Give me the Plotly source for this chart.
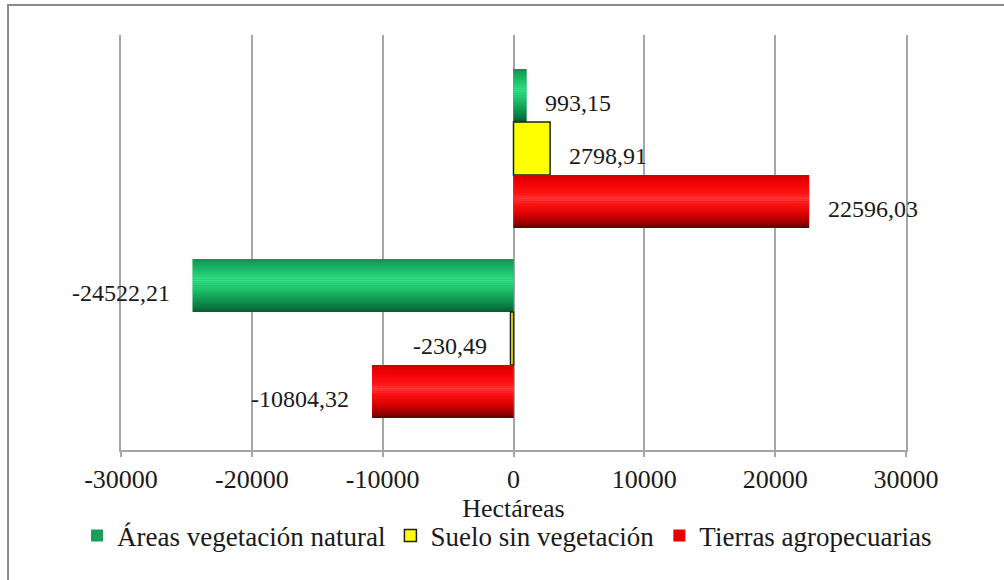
import numpy as np
import plotly.graph_objects as go

# Change in land cover (hectares): gains on the upper row, losses on the lower row
categories = ["Ganancia", "Pérdida"]
series_names = ["Áreas vegetación natural", "Suelo sin vegetación", "Tierras agropecuarias"]
vegetacion_natural = [993.15, -24522.21]
suelo_sin_vegetacion = [2798.91, -230.49]
tierras_agropecuarias = [22596.03, -10804.32]

x_tick_values = [-30000, -20000, -10000, 0, 10000, 20000, 30000]
x_tick_labels = ["-30000", "-20000", "-10000", "0", "10000", "20000", "30000"]

FONT = "Liberation Serif"
TEXT_COLOR = "#1a1a1a"
GRID = "#a6a6a6"

# bar thickness in category units and the offset of each series in its group
BAR_W = 0.2789
OFFSETS = [-0.4184, -0.1395, 0.1395]

# cylinder-style shading (position across the bar thickness, colour)
green_stops = [(0.00, "#0f9250"), (0.15, "#18b264"), (0.40, "#30e488"),
               (0.55, "#22ca72"), (0.75, "#129a54"), (0.90, "#0a7a40"), (1.00, "#055a2c")]
red_stops = [(0.00, "#cc0000"), (0.12, "#f00000"), (0.35, "#ff1414"),
             (0.45, "#ff3c3c"), (0.55, "#ff1414"), (0.75, "#d80000"),
             (0.90, "#9c0000"), (1.00, "#5a0000")]


def hex_to_rgb(h):
    h = h.lstrip("#")
    return np.array([int(h[i:i + 2], 16) for i in (0, 2, 4)], dtype=float)


def color_at(stops, t):
    for (t0, c0), (t1, c1) in zip(stops[:-1], stops[1:]):
        if t0 <= t <= t1:
            f = 0 if t1 == t0 else (t - t0) / (t1 - t0)
            rgb = hex_to_rgb(c0) * (1 - f) + hex_to_rgb(c1) * f
            return "rgb(%d,%d,%d)" % tuple(np.round(rgb))
    return stops[-1][1]


def value_label(v):
    return f"{v:.2f}".replace(".", ",")


series = [
    (series_names[0], vegetacion_natural, "#1a9e5a", None, green_stops),
    (series_names[1], suelo_sin_vegetacion, "#ffff00", "#202020", None),
    (series_names[2], tierras_agropecuarias, "#e60000", None, red_stops),
]

fig = go.Figure()
N_STRIPS = 26
annotations = []

for k, (name, values, color, line_color, stops) in enumerate(series):
    fig.add_trace(go.Bar(
        name=name,
        y=categories,
        x=values,
        orientation="h",
        offset=OFFSETS[k],
        width=BAR_W,
        marker=dict(color=color,
                    line=dict(color=line_color or color, width=1.5 if line_color else 0)),
    ))
    if stops is not None:
        for j in range(N_STRIPS):
            t = (j + 0.5) / N_STRIPS
            fig.add_trace(go.Bar(
                y=categories,
                x=values,
                orientation="h",
                offset=OFFSETS[k] + BAR_W * j / N_STRIPS,
                width=BAR_W / N_STRIPS * 1.05,
                marker=dict(color=color_at(stops, t), line=dict(width=0)),
                showlegend=False,
                hoverinfo="skip",
            ))
    # value labels just past the end of each bar
    for i, v in enumerate(values):
        annotations.append(dict(
            x=v, y=i + OFFSETS[k] + BAR_W / 2, xref="x", yref="y",
            text=value_label(v), showarrow=False,
            xanchor="left" if v >= 0 else "right",
            xshift=17 if v >= 0 else -21, yshift=-7,
            font=dict(family=FONT, size=24, color=TEXT_COLOR),
        ))

fig.update_layout(
    template="none",
    width=1004,
    height=580,
    barmode="overlay",
    paper_bgcolor="white",
    plot_bgcolor="white",
    margin=dict(l=121, r=98, t=35, b=130, autoexpand=False),
    font=dict(family=FONT, size=25, color=TEXT_COLOR),
    showlegend=True,
    legend=dict(
        orientation="h",
        x=-0.056, xanchor="left",
        y=-0.148, yanchor="top",
        font=dict(family=FONT, size=27, color=TEXT_COLOR),
        bgcolor="rgba(0,0,0,0)",
        traceorder="normal",
        itemwidth=30,
    ),
    annotations=annotations,
    xaxis=dict(
        range=[-30000, 30000],
        tickvals=x_tick_values,
        ticktext=x_tick_labels,
        tickfont=dict(family=FONT, size=26, color=TEXT_COLOR),
        showgrid=True, gridcolor=GRID, gridwidth=2,
        zeroline=True, zerolinecolor=GRID, zerolinewidth=2,
        showline=True, linecolor=GRID, linewidth=2,
        ticks="outside", ticklen=5, tickcolor=GRID, tickwidth=2,
        title=dict(text="Hectáreas", font=dict(family=FONT, size=26, color=TEXT_COLOR),
                   standoff=1),
        fixedrange=True,
    ),
    yaxis=dict(
        range=[1.5868, -0.5974],
        showticklabels=False,
        showgrid=False,
        zeroline=False,
        showline=True, linecolor=GRID, linewidth=2, mirror=True,
        ticks="",
        fixedrange=True,
    ),
    shapes=[dict(
        type="rect", xref="paper", yref="paper",
        x0=-0.1439, x1=1.2, y0=-0.6, y1=1.0723,
        line=dict(color="#8a8a8a", width=2),
        fillcolor="rgba(0,0,0,0)", layer="below",
    )],
)

fig.write_html("out.html")
